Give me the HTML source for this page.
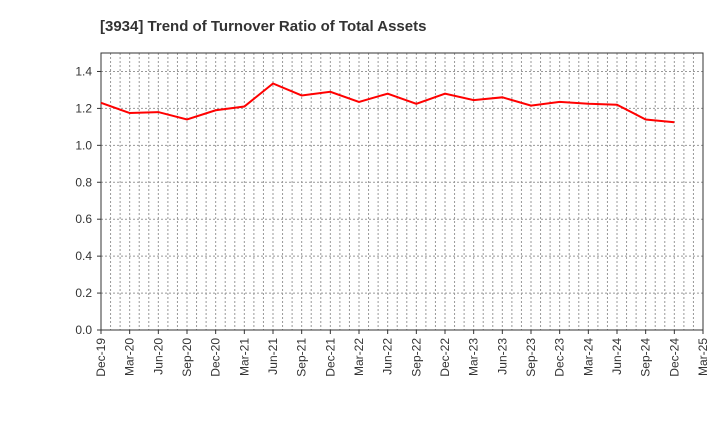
<!DOCTYPE html>
<html><head><meta charset="utf-8"><style>
body{margin:0;background:#fff;font-family:"Liberation Sans",sans-serif}
</style></head><body>
<svg id="c" width="720" height="440" xmlns="http://www.w3.org/2000/svg">
<text x="100" y="31" font-size="15" font-weight="bold" fill="#333">[3934]  Trend of Turnover Ratio of Total Assets</text>
<g id="grid"></g><g id="axes"></g><g id="series"></g>
</svg>
<script>
const categories=["Dec-19","Mar-20","Jun-20","Sep-20","Dec-20","Mar-21","Jun-21","Sep-21","Dec-21","Mar-22","Jun-22","Sep-22","Dec-22","Mar-23","Jun-23","Sep-23","Dec-23","Mar-24","Jun-24","Sep-24","Dec-24","Mar-25"];
const values=[1.23,1.175,1.18,1.14,1.19,1.21,1.335,1.27,1.29,1.235,1.28,1.225,1.28,1.245,1.26,1.215,1.235,1.225,1.22,1.14,1.125];
const yTicks=[0.0,0.2,0.4,0.6,0.8,1.0,1.2,1.4];
const L=101,R=703,T=53,B=330,yMax=1.5;
const ns="http://www.w3.org/2000/svg";
const x=i=>L+(R-L)*i/(categories.length-1);
const y=v=>B-(B-T)*v/yMax;
function mk(p,t,a){const e=document.createElementNS(ns,t);for(const k in a)e.setAttribute(k,a[k]);p.appendChild(e);return e;}
const g=document.getElementById('grid'),ax=document.getElementById('axes'),s=document.getElementById('series');
const nm=(categories.length-1)*3;
for(let m=1;m<nm;m++){const xx=L+(R-L)*m/nm;
const e=mk(g,'line',{x1:xx,x2:xx,y1:T,y2:B,stroke:'#999','stroke-dasharray':'2,2','stroke-width':1});

}
yTicks.forEach(v=>{const yy=y(v);
if(v>0){const e=mk(g,'line',{x1:L,x2:R,y1:yy,y2:yy,stroke:'#999','stroke-dasharray':'2,2'});

}
const t=mk(ax,'text',{x:L-9,y:yy+4,'text-anchor':'end','font-size':12,fill:'#333'});t.textContent=v.toFixed(1);


mk(ax,'line',{x1:L-4,x2:L,y1:yy,y2:yy,stroke:'#333'});});
const fr=mk(ax,'rect',{x:L,y:T,width:R-L,height:B-T,fill:'none',stroke:'#333'});


categories.forEach((c,i)=>{const xx=x(i);
mk(ax,'line',{x1:xx,x2:xx,y1:B,y2:B+4,stroke:'#333'});
const t=mk(ax,'text',{x:0,y:0,'text-anchor':'end','font-size':12,fill:'#333',transform:`translate(${xx+4},${B+8}) rotate(-90)`});t.textContent=c;

});
const p=mk(s,'polyline',{points:values.map((v,i)=>x(i)+','+y(v)).join(' '),fill:'none',stroke:'#f00','stroke-width':2});


</script>
</body></html>
